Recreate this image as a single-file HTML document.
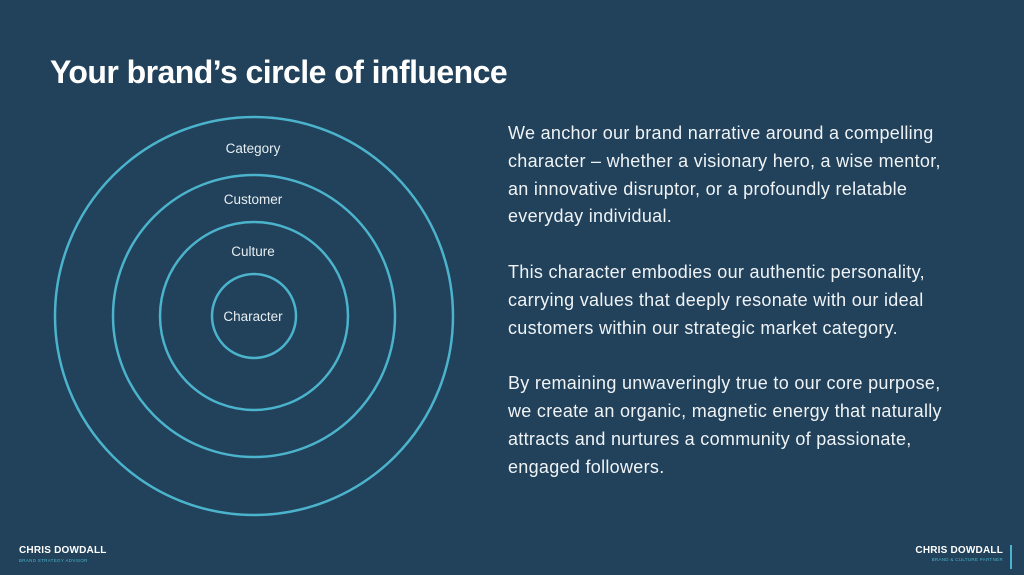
<!DOCTYPE html>
<html><head><style>
html,body{margin:0;padding:0;}
body{width:1024px;height:575px;background:#22415a;position:relative;overflow:hidden;font-family:"Liberation Sans",sans-serif;color:#fff;}
h1{position:absolute;left:50px;top:52px;margin:0;font-size:32px;font-weight:bold;letter-spacing:-0.55px;line-height:40px;white-space:nowrap;}
.txt{position:absolute;left:508px;top:120px;width:445px;font-size:18px;letter-spacing:0.3px;line-height:27.8px;color:#eef3f6;}
.txt p{margin:0 0 27.8px 0;}
.lbl{font-family:"Liberation Sans",sans-serif;font-size:13.5px;fill:#e6eef2;}
.fl{position:absolute;font-weight:bold;font-size:10px;letter-spacing:0.2px;}
.fs{position:absolute;font-size:4.5px;color:#4bb3cc;letter-spacing:0.3px;}
</style></head><body>
<h1>Your brand’s circle of influence</h1>
<svg width="1024" height="575" style="position:absolute;left:0;top:0">
<g fill="none" stroke="#4bb3cc" stroke-width="2.5">
<circle cx="254" cy="316" r="199"/>
<circle cx="254" cy="316" r="141"/>
<circle cx="254" cy="316" r="94"/>
<circle cx="254" cy="316" r="42"/>
</g>
<text class="lbl" x="253" y="153" text-anchor="middle">Category</text>
<text class="lbl" x="253" y="204" text-anchor="middle">Customer</text>
<text class="lbl" x="253" y="256" text-anchor="middle">Culture</text>
<text class="lbl" x="253" y="321" text-anchor="middle">Character</text>
<line x1="1011" y1="545" x2="1011" y2="569" stroke="#4bb3cc" stroke-width="2"/>
</svg>
<div class="txt">
<p>We anchor our brand narrative around a compelling character – whether a visionary hero, a wise mentor, an innovative disruptor, or a profoundly relatable everyday individual.</p>
<p>This character embodies our authentic personality, carrying values that deeply resonate with our ideal customers within our strategic market category.</p>
<p>By remaining unwaveringly true to our core purpose, we create an organic, magnetic energy that naturally attracts and nurtures a community of passionate, engaged followers.</p>
</div>
<div class="fl" style="left:19px;top:545px;">CHRIS DOWDALL</div>
<div class="fs" style="left:19px;top:558px;">BRAND STRATEGY ADVISOR</div>
<div class="fl" style="right:21px;top:545px;">CHRIS DOWDALL</div>
<div class="fs" style="right:21px;top:557px;">BRAND &amp; CULTURE PARTNER</div>
</body></html>
